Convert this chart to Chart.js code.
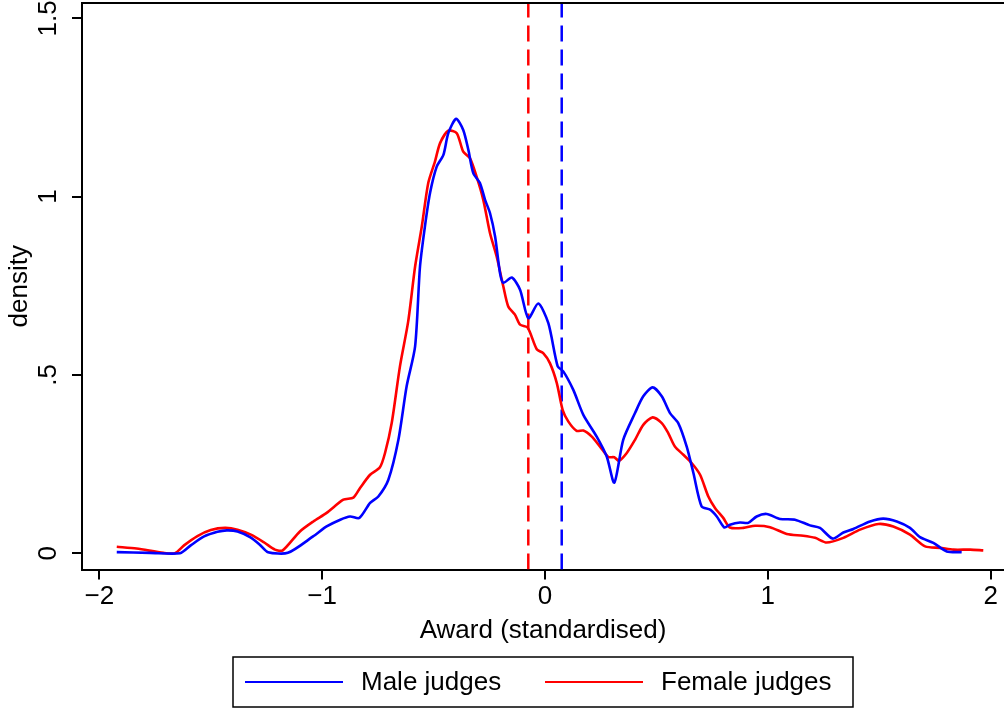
<!DOCTYPE html>
<html>
<head>
<meta charset="utf-8">
<script src="https://cdn.jsdelivr.net/npm/chart.js@4.4.1/dist/chart.umd.min.js"></script>
<style>
html, body { margin: 0; padding: 0; background: #fff; }
</style>
</head>
<body>
<canvas id="c" width="1004" height="709"></canvas>
<script>
// kernel density of awards
var maleX = [-1.922,-1.773,-1.638,-1.59,-1.53,-1.47,-1.428,-1.38,-1.324,-1.28,-1.243,-1.154,-1.041,-0.980,-0.919,-0.875,-0.833,-0.785,-0.748,-0.703,-0.658,-0.621,-0.583,-0.561,-0.539,-0.516,-0.486,-0.456,-0.434,-0.399,-0.367,-0.344,-0.322,-0.292,-0.269,-0.247,-0.224,-0.202,-0.187,-0.149,-0.112,-0.075,-0.030,0.015,0.057,0.082,0.127,0.172,0.232,0.277,0.311,0.351,0.404,0.441,0.483,0.524,0.561,0.598,0.636,0.666,0.703,0.741,0.771,0.805,0.830,0.875,0.912,0.950,0.995,1.055,1.122,1.189,1.234,1.291,1.339,1.384,1.459,1.518,1.579,1.638,1.683,1.743,1.803,1.870];
var maleY = [0.003,0.001,0.0,0.022,0.047,0.06,0.064,0.061,0.045,0.024,0.003,0.001,0.047,0.075,0.094,0.103,0.099,0.141,0.159,0.206,0.318,0.468,0.580,0.804,0.916,1.010,1.084,1.117,1.178,1.218,1.187,1.131,1.066,1.038,0.991,0.954,0.888,0.786,0.758,0.773,0.739,0.659,0.700,0.645,0.524,0.510,0.458,0.388,0.327,0.271,0.198,0.318,0.393,0.440,0.465,0.440,0.393,0.365,0.299,0.225,0.131,0.122,0.103,0.072,0.080,0.086,0.085,0.103,0.110,0.096,0.094,0.078,0.071,0.041,0.058,0.068,0.089,0.097,0.089,0.071,0.045,0.029,0.005,0.003];

var femaleX = [-1.922,-1.833,-1.713,-1.661,-1.62,-1.56,-1.5,-1.436,-1.38,-1.32,-1.26,-1.212,-1.177,-1.100,-1.040,-0.980,-0.905,-0.860,-0.830,-0.785,-0.741,-0.718,-0.688,-0.651,-0.614,-0.583,-0.553,-0.524,-0.494,-0.471,-0.434,-0.396,-0.367,-0.337,-0.307,-0.277,-0.247,-0.217,-0.187,-0.165,-0.135,-0.112,-0.078,-0.037,-0.008,0.022,0.053,0.079,0.105,0.142,0.172,0.210,0.247,0.284,0.311,0.332,0.367,0.404,0.441,0.483,0.524,0.553,0.583,0.621,0.658,0.696,0.733,0.763,0.800,0.830,0.890,0.943,1.010,1.085,1.159,1.212,1.264,1.339,1.414,1.496,1.563,1.638,1.706,1.773,1.833,1.908,1.967];
var femaleY = [0.018,0.013,0.001,0.0,0.022,0.048,0.065,0.071,0.066,0.052,0.03,0.010,0.008,0.061,0.089,0.113,0.150,0.156,0.183,0.220,0.241,0.281,0.365,0.524,0.650,0.804,0.916,1.038,1.098,1.150,1.185,1.178,1.126,1.108,1.056,0.991,0.898,0.832,0.748,0.692,0.669,0.641,0.633,0.572,0.561,0.533,0.477,0.402,0.369,0.343,0.344,0.327,0.299,0.270,0.269,0.259,0.281,0.318,0.360,0.381,0.365,0.337,0.299,0.276,0.253,0.220,0.159,0.127,0.099,0.072,0.071,0.077,0.073,0.054,0.049,0.043,0.030,0.043,0.066,0.082,0.075,0.052,0.019,0.015,0.010,0.010,0.008];

// group means (dashed lines)
var maleMean = 0.075;
var femaleMean = -0.075;

var xTicks = [-2, -1, 0, 1, 2];
var yTicks = [0, 0.5, 1, 1.5];
var yTickLabels = ['0', '.5', '1', '1.5'];
var seriesNames = ['Male judges', 'Female judges'];

var xMin = -2.078, xMax = 2.06, yMin = -0.046, yMax = 1.543;
var FONT = '"Liberation Sans", Arial, Helvetica, sans-serif';
var FS = 26;

function pts(xs, ys) {
  var out = [];
  for (let i = 0; i < Math.min(xs.length, ys.length); i++) out.push({x: xs[i], y: ys[i]});
  return out;
}

var frame = {
  id: 'frame',
  afterDraw: function(chart) {
    var ctx = chart.ctx, a = chart.chartArea;
    ctx.save();
    // top frame line
    ctx.strokeStyle = '#000';
    ctx.lineWidth = 2;
    ctx.beginPath();
    ctx.moveTo(a.left, a.top);
    ctx.lineTo(a.right, a.top);
    ctx.stroke();

    // vertical y tick labels
    var ys = chart.scales.y;
    ctx.fillStyle = '#000';
    ctx.font = FS + 'px ' + FONT;
    ctx.textAlign = 'center';
    ctx.textBaseline = 'middle';
    for (let i = 0; i < yTicks.length; i++) {
      ctx.save();
      ctx.translate(49, ys.getPixelForValue(yTicks[i]));
      ctx.rotate(-Math.PI / 2);
      ctx.fillText(yTickLabels[i], 0, 0);
      ctx.restore();
    }

    // legend box
    var cx = (a.left + a.right) / 2;
    var bx = cx - 310, by = 657, bw = 620, bh = 50;
    ctx.lineWidth = 1.5;
    ctx.strokeRect(bx, by, bw, bh);
    var ly = by + bh / 2;
    var items = [
      {x: bx + 12, color: chart.data.datasets[0].borderColor, text: seriesNames[0]},
      {x: bx + 312, color: chart.data.datasets[1].borderColor, text: seriesNames[1]}
    ];
    ctx.textAlign = 'left';
    items.forEach(function(it) {
      ctx.strokeStyle = it.color;
      ctx.lineWidth = 2;
      ctx.beginPath();
      ctx.moveTo(it.x, ly);
      ctx.lineTo(it.x + 98, ly);
      ctx.stroke();
      ctx.fillText(it.text, it.x + 116, ly + 1);
    });
    ctx.restore();
  }
};

new Chart(document.getElementById('c'), {
  type: 'line',
  data: {
    datasets: [{
      label: seriesNames[0],
      data: pts(maleX, maleY),
      borderColor: '#0000ff',
      borderWidth: 2.6,
      fill: false,
      tension: 0.25
    }, {
      label: seriesNames[1],
      data: pts(femaleX, femaleY),
      borderColor: '#ff0000',
      borderWidth: 2.6,
      fill: false,
      tension: 0.25
    }, {
      label: 'mean male',
      data: [{x: maleMean, y: yMin}, {x: maleMean, y: yMax}],
      borderColor: '#0000ff',
      borderWidth: 2.5,
      borderDash: [16, 8],
      fill: false
    }, {
      label: 'mean female',
      data: [{x: femaleMean, y: yMin}, {x: femaleMean, y: yMax}],
      borderColor: '#ff0000',
      borderWidth: 2.5,
      borderDash: [16, 8],
      fill: false
    }]
  },
  options: {
    responsive: false,
    animation: false,
    devicePixelRatio: 1,
    layout: { padding: { top: 3, right: 0, bottom: 63, left: 0 } },
    elements: { point: { radius: 0 } },
    plugins: { legend: { display: false }, tooltip: { enabled: false } },
    scales: {
      x: {
        type: 'linear',
        min: xMin,
        max: xMax,
        afterBuildTicks: function(s) { s.ticks = xTicks.map(function(v) { return {value: v}; }); },
        grid: { drawOnChartArea: false, drawTicks: true, tickLength: 10, color: '#000', lineWidth: 2 },
        border: { color: '#000', width: 2 },
        ticks: {
          color: '#000',
          font: { family: FONT, size: FS },
          padding: 2,
          maxRotation: 0,
          callback: function(v) { return v < 0 ? '\u2212' + Math.abs(v) : String(v); }
        },
        title: {
          display: true,
          text: 'Award (standardised)',
          color: '#000',
          font: { family: FONT, size: FS },
          padding: { top: 0, bottom: 0 }
        }
      },
      y: {
        type: 'linear',
        min: yMin,
        max: yMax,
        afterBuildTicks: function(s) { s.ticks = yTicks.map(function(v) { return {value: v}; }); },
        afterFit: function(s) { s.width = 82; },
        grid: { drawOnChartArea: false, drawTicks: true, tickLength: 10, color: '#000', lineWidth: 2 },
        border: { color: '#000', width: 2 },
        ticks: { display: false },
        title: {
          display: true,
          text: 'density',
          color: '#000',
          font: { family: FONT, size: FS },
          padding: { top: 4, bottom: 0 }
        }
      }
    }
  },
  plugins: [frame]
});
</script>
</body>
</html>
